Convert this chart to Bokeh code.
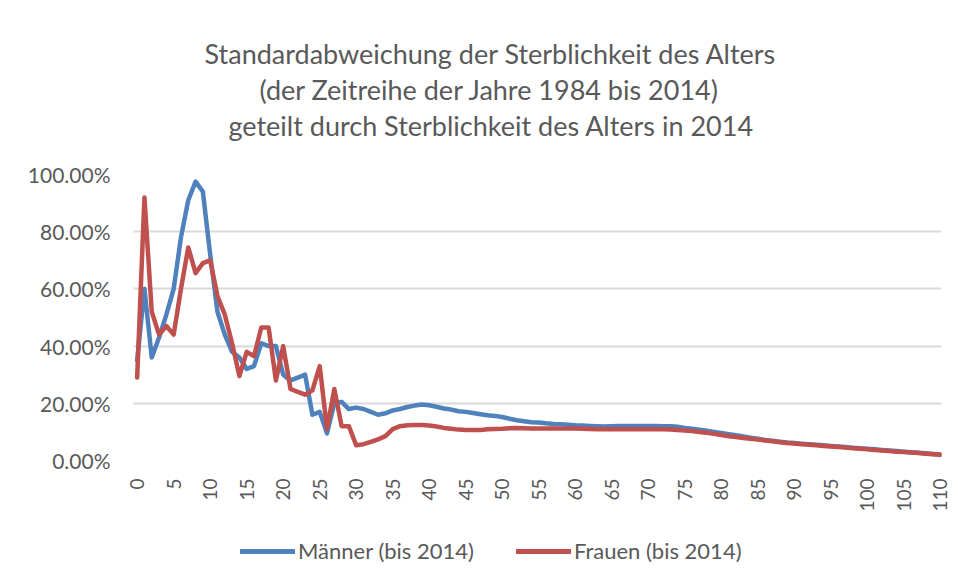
import math
from bokeh.plotting import figure
from bokeh.layouts import column
from bokeh.models import (ColumnDataSource, Legend, LegendItem, FixedTicker,
                          NumeralTickFormatter, Range1d, Title)
from bokeh.embed import file_html
from bokeh.resources import INLINE

# ---- data ----
ages = list(range(0, 111))
tick_ages = [0, 5, 10, 15, 20, 25, 30, 35, 40, 45, 50, 55, 60, 65, 70, 75,
             80, 85, 90, 95, 100, 105, 110]
y_ticks = [0.0, 0.2, 0.4, 0.6, 0.8, 1.0]

maenner = [
    0.35, 0.60, 0.36, 0.43, 0.51, 0.60, 0.78, 0.91, 0.975, 0.94,      # 0-9
    0.72, 0.52, 0.44, 0.38, 0.36, 0.32, 0.33, 0.41, 0.40, 0.40,      # 10-19
    0.30, 0.28, 0.29, 0.30, 0.16, 0.17, 0.095, 0.20, 0.205, 0.18,    # 20-29
    0.185, 0.18, 0.17, 0.16, 0.165, 0.175, 0.18, 0.187, 0.192, 0.196,  # 30-39
    0.193, 0.188, 0.182, 0.178, 0.172, 0.170, 0.166, 0.162, 0.158, 0.156,  # 40-49
    0.152, 0.146, 0.141, 0.137, 0.134, 0.133, 0.130, 0.128, 0.127, 0.125,  # 50-59
    0.123, 0.122, 0.121, 0.120, 0.119, 0.120, 0.121, 0.121, 0.121, 0.121,  # 60-69
    0.121, 0.121, 0.120, 0.120, 0.118, 0.114, 0.111, 0.108, 0.104, 0.100,  # 70-79
    0.096, 0.092, 0.088, 0.084, 0.080, 0.076, 0.072, 0.069, 0.066, 0.063,  # 80-89
    0.061, 0.059, 0.057, 0.055, 0.053, 0.051, 0.049, 0.047, 0.045, 0.043,  # 90-99
    0.041, 0.039, 0.037, 0.035, 0.033, 0.031, 0.029, 0.027, 0.025, 0.023,  # 100-109
    0.021,
]

frauen = [
    0.29, 0.92, 0.52, 0.44, 0.47, 0.44, 0.60, 0.745, 0.655, 0.69,    # 0-9
    0.70, 0.575, 0.51, 0.41, 0.295, 0.38, 0.365, 0.465, 0.465, 0.28,  # 10-19
    0.40, 0.25, 0.24, 0.23, 0.245, 0.33, 0.11, 0.25, 0.12, 0.12,     # 20-29
    0.053, 0.057, 0.065, 0.074, 0.085, 0.11, 0.12, 0.123, 0.124, 0.124,  # 30-39
    0.122, 0.119, 0.114, 0.111, 0.108, 0.107, 0.107, 0.107, 0.109, 0.110,  # 40-49
    0.111, 0.113, 0.114, 0.113, 0.112, 0.112, 0.112, 0.112, 0.112, 0.112,  # 50-59
    0.112, 0.111, 0.110, 0.109, 0.109, 0.109, 0.109, 0.109, 0.109, 0.109,  # 60-69
    0.109, 0.109, 0.109, 0.108, 0.107, 0.105, 0.103, 0.100, 0.097, 0.093,  # 70-79
    0.089, 0.085, 0.082, 0.079, 0.076, 0.073, 0.070, 0.067, 0.064, 0.061,  # 80-89
    0.059, 0.057, 0.055, 0.053, 0.051, 0.049, 0.047, 0.045, 0.043, 0.041,  # 90-99
    0.039, 0.037, 0.035, 0.033, 0.031, 0.030, 0.028, 0.026, 0.024, 0.022,  # 100-109
    0.020,
]

title_lines = [
    "Standardabweichung der Sterblichkeit des Alters",
    "(der Zeitreihe der Jahre 1984 bis 2014)",
    "geteilt durch Sterblichkeit des Alters in 2014",
]
series_labels = ["Männer (bis 2014)", "Frauen (bis 2014)"]

FONT = "Lato"
TXT = "#595959"
GRID = "#d9d9d9"
BLUE = "#4F81BD"
RED = "#C0504D"

src = ColumnDataSource(dict(age=ages, m=maenner, f=frauen))

p = figure(width=950, height=520, output_backend="svg", toolbar_location=None,
           title=None, x_range=Range1d(-0.5, 110.15), y_range=Range1d(0, 1.0),
           min_border_left=133, min_border_right=9, min_border_top=174,
           min_border_bottom=60)
p.outline_line_color = None
p.background_fill_color = "white"
p.border_fill_color = "white"

# spacer between the plot area and the title block
p.add_layout(Title(text=" ", text_font=FONT, text_font_size="25px",
                   standoff=0), "above")
# titles: left-aligned with offsets so that each line is centred near x=490
title_offsets = [71, 126, 95]      # line1, line2, line3
for k in (2, 1, 0):                 # bottom line first -> stacked upwards
    t = Title(text=title_lines[k], align="left", offset=title_offsets[k],
              standoff=1, text_font=FONT,
              text_font_size="27px", text_font_style="normal", text_color=TXT)
    p.add_layout(t, "above")

r1 = p.line("age", "m", source=src, line_color=BLUE, line_width=4.5,
            line_join="round", line_cap="round")
r2 = p.line("age", "f", source=src, line_color=RED, line_width=4.5,
            line_join="round", line_cap="round")

# axes
p.yaxis.ticker = FixedTicker(ticks=y_ticks)
p.yaxis.formatter = NumeralTickFormatter(format="0.00%")
p.yaxis.axis_line_color = None
p.yaxis.major_tick_line_color = None
p.yaxis.minor_tick_line_color = None
p.yaxis.major_label_text_font = FONT
p.yaxis.major_label_text_font_size = "21px"
p.yaxis.major_label_text_color = TXT
p.yaxis.major_label_standoff = 17

p.xaxis.ticker = FixedTicker(ticks=tick_ages)
p.xaxis.major_label_orientation = math.pi / 2
p.xaxis.axis_line_color = None
p.xaxis.major_tick_line_color = None
p.xaxis.minor_tick_line_color = None
p.xaxis.major_label_text_font = FONT
p.xaxis.major_label_text_font_size = "19px"
p.xaxis.major_label_text_color = TXT
p.xaxis.major_label_standoff = 12

p.xgrid.grid_line_color = None
p.ygrid.grid_line_color = GRID
p.ygrid.grid_line_width = 2
p.ygrid.ticker = FixedTicker(ticks=y_ticks)

# legend strip underneath (separate small figure, frame aligned with p)
lf = figure(width=950, height=54, output_backend="svg", toolbar_location=None,
            title=None, x_range=Range1d(0, 1), y_range=Range1d(0, 1),
            min_border=0)
lf.axis.visible = False
lf.grid.visible = False
lf.outline_line_color = None
# single-point lines: nothing visible in the strip, only used as legend keys
lm = lf.line([0], [0], line_color=BLUE, line_width=5, line_cap="round")
lw = lf.line([0], [0], line_color=RED, line_width=5, line_cap="round")

legend = Legend(items=[LegendItem(label=series_labels[0], renderers=[lm]),
                       LegendItem(label=series_labels[1], renderers=[lw])],
                orientation="horizontal", location=(107, 10))
legend.border_line_color = None
legend.background_fill_alpha = 0
legend.label_text_font = FONT
legend.label_text_font_size = "22px"
legend.label_text_color = TXT
legend.glyph_width = 55
legend.glyph_height = 22
legend.label_standoff = 3
legend.spacing = 42
legend.padding = 0
legend.margin = 0
lf.add_layout(legend, "center")

layout = column(p, lf, spacing=0)

open("out.html", "w").write(file_html(layout, INLINE))
